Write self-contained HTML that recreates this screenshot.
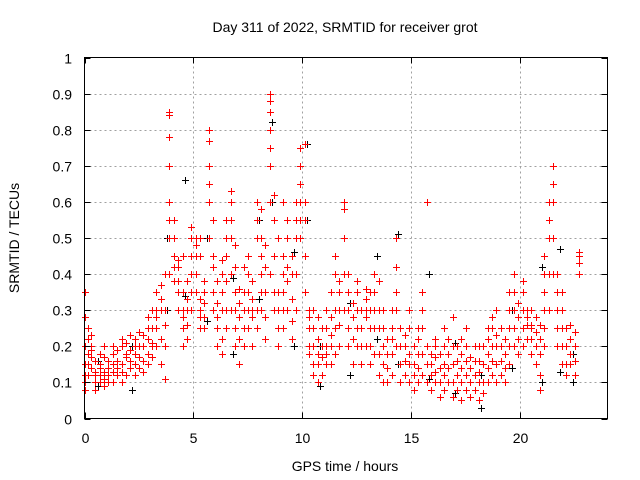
<!DOCTYPE html>
<html><head><meta charset="utf-8"><style>
body{margin:0;background:#fff;}
svg{display:block;font-family:"Liberation Sans",sans-serif;}
</style></head><body>
<svg id="chart" width="640" height="480" viewBox="0 0 640 480">
<rect width="640" height="480" fill="#fff"/>
<g id="grid"></g>
<g id="black"></g>
<g id="red"></g>
<rect x="84.5" y="57.5" width="523" height="361" fill="none" stroke="#000" stroke-width="1"/>
<g id="ticks"></g>
<text x="345" y="32" font-size="14" text-anchor="middle">Day 311 of 2022, SRMTID for receiver grot</text>
<text x="345" y="471" font-size="14" text-anchor="middle">GPS time / hours</text>
<text transform="translate(19,238) rotate(-90)" font-size="14" text-anchor="middle">SRMTID / TECUs</text>
</svg>
<script>
const xTicks=[0,5,10,15,20];
const yTicks=[0,0.1,0.2,0.3,0.4,0.5,0.6,0.7,0.8,0.9,1];
const yTickLabels=["0","0.1","0.2","0.3","0.4","0.5","0.6","0.7","0.8","0.9","1"];
const redTimes=[0.0,0.15,0.3,0.5,0.7,0.9,1.1,1.3,1.5,1.7,1.9,2.1,2.3,2.5,2.7,2.9,3.1,3.3,3.5,3.7,3.9,4.1,4.3,4.5,4.7,4.9,5.1,5.3,5.5,5.7,5.9,6.1,6.3,6.5,6.7,6.9,7.1,7.3,7.5,7.7,7.9,8.1,8.3,8.5,8.7,8.9,9.1,9.3,9.5,9.7,9.9,10.1,10.3,10.5,10.7,10.9,11.1,11.3,11.5,11.7,11.9,12.1,12.3,12.5,12.7,12.9,13.1,13.3,13.5,13.7,13.9,14.1,14.3,14.5,14.7,14.9,15.1,15.3,15.5,15.7,15.9,16.1,16.3,16.5,16.7,16.9,17.1,17.3,17.5,17.7,17.9,18.1,18.3,18.5,18.7,18.9,19.1,19.3,19.5,19.7,19.9,20.1,20.3,20.5,20.7,20.9,21.1,21.3,21.5,21.7,21.9,22.1,22.3,22.5,22.7];
const redValues=[[0.08,0.1,0.12,0.28,0.35,0.2,0.15],[0.15,0.18,0.22,0.25,0.12],[0.2,0.17,0.14,0.19,0.23],[0.1,0.13,0.16,0.12,0.08],[0.12,0.15,0.18,0.1,0.14],[0.09,0.13,0.17,0.2,0.11],[0.1,0.14,0.16,0.12],[0.13,0.18,0.2,0.15,0.1],[0.12,0.16,0.19,0.14],[0.1,0.15,0.2,0.22,0.13],[0.12,0.17,0.21,0.18],[0.14,0.19,0.23,0.16],[0.12,0.18,0.22,0.15,0.2],[0.14,0.2,0.17,0.24],[0.13,0.16,0.2,0.23],[0.15,0.18,0.22,0.25,0.28],[0.17,0.21,0.25,0.3,0.2],[0.2,0.25,0.3,0.35,0.28],[0.15,0.22,0.3,0.37,0.33],[0.11,0.2,0.26,0.3,0.4],[0.4,0.5,0.6,0.7,0.84,0.85,0.78,0.55],[0.38,0.45,0.5,0.55,0.42],[0.3,0.35,0.42,0.44,0.38],[0.2,0.25,0.3,0.35,0.28,0.45],[0.26,0.3,0.33,0.38,0.22],[0.3,0.35,0.4,0.5,0.53,0.45],[0.45,0.5,0.48,0.4,0.35],[0.25,0.3,0.28,0.33,0.45,0.5],[0.28,0.32,0.35,0.38,0.25],[0.5,0.6,0.7,0.77,0.8,0.65],[0.3,0.35,0.42,0.45,0.55],[0.2,0.25,0.28,0.32,0.38],[0.18,0.22,0.3,0.35,0.4,0.44],[0.25,0.3,0.38,0.45,0.5,0.55],[0.3,0.4,0.5,0.55,0.6,0.63],[0.2,0.25,0.3,0.35,0.48,0.42],[0.15,0.22,0.28,0.32,0.36],[0.2,0.25,0.3,0.35,0.42],[0.25,0.3,0.35,0.4,0.45],[0.2,0.28,0.33,0.3,0.38],[0.25,0.3,0.5,0.6,0.55],[0.3,0.35,0.4,0.45,0.5,0.58],[0.22,0.28,0.35,0.42,0.48],[0.4,0.6,0.7,0.8,0.88,0.9,0.85,0.75],[0.3,0.35,0.45,0.55,0.62],[0.2,0.25,0.3,0.35,0.5],[0.25,0.3,0.35,0.4,0.45,0.6],[0.3,0.38,0.42,0.5,0.55],[0.22,0.27,0.33,0.4,0.45],[0.3,0.4,0.5,0.55,0.6],[0.5,0.6,0.65,0.7,0.75,0.55],[0.35,0.45,0.55,0.6,0.76],[0.2,0.25,0.3,0.28,0.18],[0.12,0.15,0.2,0.25,0.3],[0.1,0.15,0.18,0.22,0.28],[0.12,0.17,0.2,0.25],[0.15,0.2,0.25,0.3,0.18],[0.15,0.2,0.23,0.28,0.35],[0.18,0.25,0.3,0.4,0.45],[0.2,0.26,0.3,0.35,0.38],[0.3,0.4,0.5,0.58,0.6],[0.2,0.25,0.3,0.35,0.4],[0.15,0.22,0.28,0.32],[0.2,0.25,0.3,0.35,0.38],[0.15,0.2,0.25,0.3],[0.2,0.28,0.33,0.36,0.3],[0.15,0.2,0.25,0.3,0.35],[0.18,0.25,0.3,0.35,0.4],[0.12,0.18,0.25,0.3,0.38],[0.1,0.15,0.2,0.25,0.3],[0.1,0.14,0.18,0.22],[0.12,0.18,0.22,0.25,0.3],[0.2,0.3,0.35,0.42,0.5],[0.1,0.15,0.2,0.25],[0.12,0.16,0.2,0.23],[0.1,0.15,0.18,0.25,0.3],[0.08,0.12,0.15,0.2],[0.1,0.14,0.18,0.22,0.25],[0.12,0.18,0.25,0.3,0.35],[0.1,0.15,0.2,0.6],[0.08,0.12,0.15,0.18],[0.1,0.13,0.17,0.2,0.22],[0.06,0.1,0.14,0.18],[0.08,0.12,0.15,0.2,0.25],[0.1,0.14,0.18,0.22],[0.06,0.1,0.15,0.2,0.28],[0.08,0.12,0.16,0.2],[0.05,0.1,0.14,0.18,0.22],[0.08,0.12,0.16,0.2,0.25],[0.06,0.1,0.14,0.17],[0.08,0.12,0.16,0.2],[0.05,0.1,0.13,0.16,0.2],[0.07,0.1,0.15,0.2],[0.1,0.14,0.18,0.22,0.25],[0.12,0.16,0.2,0.25,0.28],[0.1,0.15,0.2,0.23,0.3],[0.12,0.16,0.2,0.25],[0.1,0.14,0.18,0.22],[0.15,0.2,0.25,0.3,0.35],[0.2,0.25,0.3,0.35,0.4],[0.18,0.22,0.28,0.32],[0.2,0.25,0.3,0.35,0.38],[0.22,0.26,0.3,0.28],[0.18,0.22,0.26,0.3,0.25],[0.15,0.2,0.24,0.28],[0.08,0.12,0.18,0.22,0.26],[0.2,0.25,0.3,0.35,0.4,0.45],[0.3,0.4,0.5,0.55,0.6],[0.4,0.5,0.6,0.65,0.7],[0.2,0.25,0.3,0.35,0.4],[0.15,0.2,0.25,0.3,0.35],[0.12,0.15,0.2,0.25],[0.15,0.18,0.22,0.26],[0.12,0.16,0.2,0.24],[0.4,0.43,0.45,0.46]];
const blackTimes=[0.6,2.2,3.8,4.6,5.6,6.8,8.0,8.6,9.6,10.2,10.8,12.2,13.4,14.4,15.8,17.0,18.2,19.6,21.0,21.8,22.4];
const blackValues=[[0.09,0.16],[0.08,0.2],[0.3,0.5],[0.34,0.66],[0.27,0.5],[0.18,0.39],[0.33,0.55],[0.6,0.82],[0.2,0.46],[0.55,0.76],[0.09,0.2],[0.32,0.12],[0.22,0.45],[0.51,0.15],[0.4,0.11],[0.07,0.21],[0.03,0.12],[0.14,0.3],[0.42,0.1],[0.47,0.13],[0.1,0.18]];
const NS="http://www.w3.org/2000/svg";
const X0=84.5,X1=607.5,Y0=418.5,Y1=57.5,XMAX=24;
function xs(t){return X0+(X1-X0)*t/XMAX;}
function ys(v){return Y0-(Y0-Y1)*v;}
function mk(tag,attrs,parent){const e=document.createElementNS(NS,tag);for(const k in attrs)e.setAttribute(k,attrs[k]);parent.appendChild(e);return e;}
const grid=document.getElementById('grid'),ticks=document.getElementById('ticks');
yTicks.forEach((v,i)=>{
  const y=Math.round(ys(v))+0.5;
  if(v>0&&v<1){const g=mk('line',{x1:X0,x2:X1,y1:y,y2:y,stroke:'#a0a0a0','stroke-dasharray':'2,3'},grid);
  
  }
  mk('line',{x1:X0,x2:X0+6,y1:y,y2:y,stroke:'#000'},ticks);
  mk('line',{x1:X1,x2:X1-6,y1:y,y2:y,stroke:'#000'},ticks);
  const t=mk('text',{x:72,y:y+5,'font-size':14,'text-anchor':'end'},ticks);
  t.textContent=yTickLabels[i];
  
  
});
xTicks.forEach(v=>{
  const x=Math.round(xs(v))+0.5;
  if(v>0){const g=mk('line',{x1:x,x2:x,y1:Y0,y2:Y1,stroke:'#a0a0a0','stroke-dasharray':'2,3'},grid);
  
  }
  mk('line',{x1:x,x2:x,y1:Y0,y2:Y0-6,stroke:'#000'},ticks);
  mk('line',{x1:x,x2:x,y1:Y1,y2:Y1+6,stroke:'#000'},ticks);
  const t=mk('text',{x:x,y:443,'font-size':14,'text-anchor':'middle'},ticks);
  t.textContent=String(v);
  
  
});
function series(times,vals,color,gid,name){
  let d='';
  times.forEach((t,i)=>{vals[i].forEach(v=>{const x=Math.round(xs(t))+0.5,y=Math.round(ys(v))+0.5;d+=`M${x-3.5} ${y}h7M${x} ${y-3.5}v7`;});});
  const p=mk('path',{d:d,stroke:color,'stroke-width':1,fill:'none'},document.getElementById(gid));
  
  
}
series(blackTimes,blackValues,'#000','black','black-series-points');
series(redTimes,redValues,'#ff0000','red','red-series-points');
</script>
</body></html>
